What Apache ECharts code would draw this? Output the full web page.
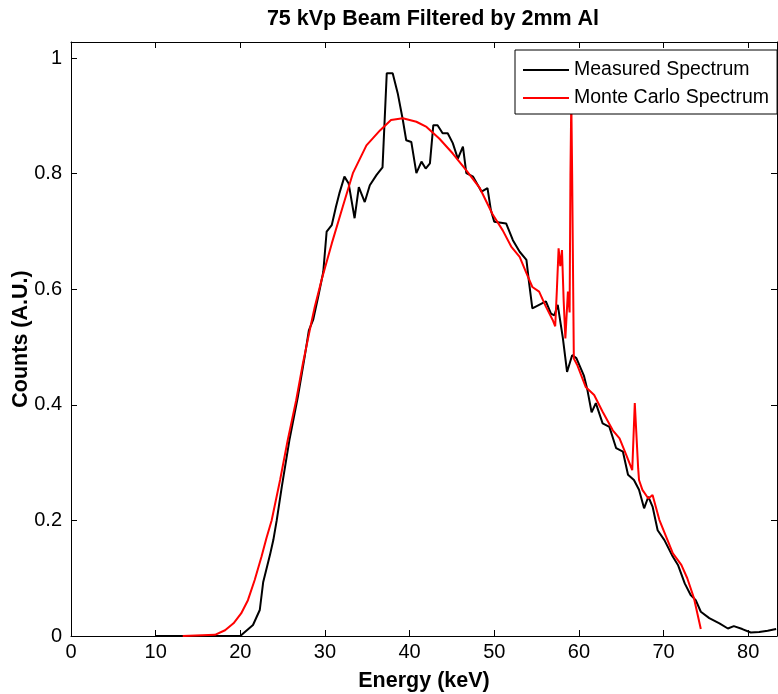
<!DOCTYPE html>
<html>
<head>
<meta charset="utf-8">
<script src="https://cdn.jsdelivr.net/npm/echarts@6/dist/echarts.min.js"></script>
<style>html,body{margin:0;padding:0;background:#fff;}#c{width:778px;height:694px;}</style>
</head>
<body>
<div id="c"></div>
<script>
var titleText = '75 kVp Beam Filtered by 2mm Al';
var xName = 'Energy (keV)';
var yName = 'Counts (A.U.)';
var seriesNames = ['Measured Spectrum', 'Monte Carlo Spectrum'];

var measuredEnergy = [10.0,20.0,20.3,21.5,22.3,22.7,23.5,23.9,24.3,24.9,25.8,26.8,27.6,28.1,28.6,29.2,29.8,30.2,30.8,31.3,31.7,32.3,32.8,33.5,34.0,34.7,35.3,36.1,36.8,37.3,38.0,38.6,39.2,39.6,40.2,40.8,41.4,41.9,42.4,42.8,43.3,43.9,44.5,45.1,45.7,46.3,46.7,47.5,48.5,49.2,49.6,50.0,51.4,52.2,53.0,53.8,54.1,54.5,55.3,56.1,56.7,57.1,57.5,58.1,58.6,59.2,59.7,60.6,61.0,61.5,62.0,62.8,63.6,64.4,65.2,65.8,66.5,67.1,67.7,68.2,68.7,69.3,70.1,71.1,71.7,72.5,73.2,73.8,74.4,75.4,76.6,77.6,78.3,79.3,80.3,81.3,82.3,83.3];
var measuredCounts = [0,0,0.004,0.019,0.045,0.093,0.14,0.166,0.20,0.258,0.339,0.414,0.483,0.529,0.547,0.587,0.63,0.70,0.711,0.743,0.766,0.795,0.783,0.723,0.777,0.751,0.780,0.798,0.811,0.974,0.974,0.939,0.893,0.858,0.855,0.801,0.821,0.809,0.818,0.884,0.884,0.870,0.870,0.853,0.826,0.847,0.801,0.795,0.769,0.775,0.737,0.717,0.714,0.685,0.665,0.651,0.613,0.567,0.573,0.579,0.558,0.555,0.573,0.516,0.457,0.486,0.481,0.450,0.426,0.387,0.403,0.368,0.362,0.325,0.319,0.279,0.270,0.253,0.221,0.241,0.224,0.183,0.166,0.137,0.123,0.091,0.071,0.062,0.042,0.031,0.022,0.013,0.017,0.012,0.006,0.007,0.009,0.012];

var monteEnergy = [13.2,17.0,18.2,19.2,20.1,20.9,21.7,22.5,23.1,23.7,24.7,25.6,26.6,27.4,28.2,28.8,29.6,30.8,32.1,33.3,34.9,36.5,37.8,39.2,40.8,42.0,43.5,45.1,46.7,48.3,49.8,51.0,52.0,53.0,53.8,54.5,55.3,56.1,56.9,57.2,57.4,57.6,57.8,58.0,58.2,58.4,58.7,58.9,59.0,59.1,59.2,59.4,59.8,60.8,61.8,62.8,64.0,64.8,65.6,66.3,66.6,66.8,67.0,67.1,67.5,68.2,68.7,69.5,70.3,71.1,72.1,72.8,73.6,74.4];
var monteCounts = [0,0.002,0.010,0.022,0.039,0.062,0.097,0.137,0.170,0.200,0.270,0.339,0.408,0.472,0.529,0.570,0.616,0.679,0.743,0.801,0.849,0.875,0.893,0.896,0.890,0.881,0.861,0.835,0.806,0.775,0.73,0.702,0.674,0.656,0.628,0.604,0.596,0.570,0.547,0.536,0.600,0.671,0.640,0.668,0.580,0.515,0.596,0.560,0.798,0.93,0.80,0.480,0.469,0.431,0.417,0.388,0.356,0.342,0.313,0.287,0.403,0.403,0.290,0.270,0.253,0.238,0.244,0.201,0.172,0.143,0.123,0.100,0.065,0.012];

function pairs(xs, ys) { return xs.map(function (x, i) { return [x, ys[i]]; }); }

var FONT = 'Liberation Sans, Arial, sans-serif';
var chart = echarts.init(document.getElementById('c'), null, {renderer: 'canvas'});
var axisLine = {show: true, onZero: false, lineStyle: {color: '#000', width: 1}};
var axisTick = {show: true, inside: true, length: 6, lineStyle: {color: '#000', width: 1}};
chart.setOption({
  animation: false,
  backgroundColor: '#fff',
  title: {
    text: titleText, left: 428, top: 3, textAlign: 'center',
    textStyle: {fontFamily: FONT, fontWeight: 'bold', fontSize: 21.5, color: '#000'}
  },
  legend: {
    data: seriesNames.map(function (n) { return {name: n, icon: 'rect'}; }),
    orient: 'vertical', left: 515, top: 50,
    backgroundColor: '#fff', borderColor: '#000', borderWidth: 1, borderRadius: 0,
    padding: [10, 8, 6, 8], itemWidth: 46, itemHeight: 2, itemGap: 8,
    textStyle: {fontFamily: FONT, fontSize: 19.5, color: '#000', padding: [0, 0, 0, 0]},
    z: 10
  },
  grid: {left: 71, right: 1, top: 42, bottom: 58, containLabel: false, outerBoundsMode: 'none'},
  xAxis: [{
    type: 'value', min: 0, max: 83.4, interval: 10,
    name: xName, nameLocation: 'middle', nameGap: 34,
    nameTextStyle: {fontFamily: FONT, fontWeight: 'bold', fontSize: 21.5, color: '#000'},
    axisLine: axisLine, axisTick: axisTick, splitLine: {show: false},
    axisLabel: {fontFamily: FONT, fontSize: 20, color: '#000', margin: 6, showMaxLabel: false}
  }, {
    type: 'value', position: 'top', min: 0, max: 83.4, interval: 10,
    axisLine: axisLine, axisTick: axisTick, splitLine: {show: false}, axisLabel: {show: false}
  }],
  yAxis: [{
    type: 'value', min: 0, max: 1.028, interval: 0.2,
    name: yName, nameLocation: 'middle', nameGap: 39, nameMoveOverlap: false,
    nameTextStyle: {fontFamily: FONT, fontWeight: 'bold', fontSize: 21.5, color: '#000'},
    axisLine: axisLine, axisTick: axisTick, splitLine: {show: false},
    axisLabel: {fontFamily: FONT, fontSize: 20, color: '#000', margin: 9,
      formatter: function (v) { return String(Math.round(v * 10) / 10); }}
  }, {
    type: 'value', position: 'right', min: 0, max: 1.028, interval: 0.2,
    axisLine: axisLine, axisTick: axisTick, splitLine: {show: false}, axisLabel: {show: false}
  }],
  series: [{
    name: seriesNames[0], type: 'line', data: pairs(measuredEnergy, measuredCounts),
    symbol: 'none', lineStyle: {color: '#000', width: 2}, itemStyle: {color: '#000'}, z: 2
  }, {
    name: seriesNames[1], type: 'line', data: pairs(monteEnergy, monteCounts),
    symbol: 'none', lineStyle: {color: '#ff0000', width: 2}, itemStyle: {color: '#ff0000'}, z: 3
  }]
});
</script>
</body>
</html>
